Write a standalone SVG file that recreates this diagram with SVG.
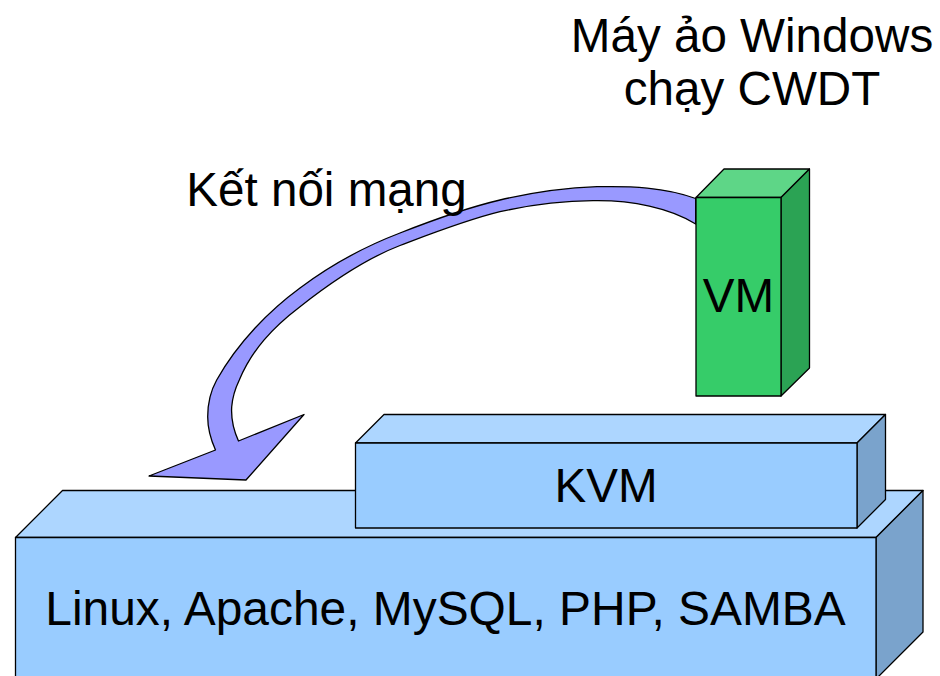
<svg xmlns="http://www.w3.org/2000/svg" width="940" height="676" viewBox="0 0 940 676">
<style>
text{font-family:"Liberation Sans",Arial,sans-serif;font-size:47.6px;fill:#000;text-anchor:middle}
.e{stroke:#000;stroke-width:1.3;stroke-linejoin:round}
.bf{fill:#99ccff}.bt{fill:#add6ff}.bs{fill:#7aa3cc}
.gf{fill:#36cc69}.gt{fill:#5ed687}.gs{fill:#2ba354}
</style>
<rect width="940" height="676" fill="#fff"/>
<g id="linux">
<path class="e bt" d="M15.500 537.500L62.500 490.500H923L876 537.500Z"/>
<path class="e bs" d="M876 537.500L923 490.500V632L876 679Z"/>
<rect class="e bf" x="15.500" y="537.500" width="860.500" height="142"/>
<text x="445.500" y="625" style="font-size:47.900px">Linux, Apache, MySQL, PHP, SAMBA</text>
</g>
<g id="kvm">
<path class="e bt" d="M355.500 443L384 414.500H885.500L857 443Z"/>
<path class="e bs" d="M857 443L885.500 414.500V499.500L857 528Z"/>
<rect class="e bf" x="355.500" y="443" width="501.500" height="85"/>
<text x="606" y="502">KVM</text>
</g>
<g id="connectors">
<path class="e" fill="#9999ff" d="M695.700 198.500C665 187 630 186 597 186.700C560 188 530 193 500 200C466 208 433 220 400 233C366 246 332 264 300 288C270 310 238 342 216.700 380C210 392 207.700 405 207.700 416.700C207.700 428 211 440 215.500 450L149 476L246 480L304 414.500L238.500 441C233.500 430 231 418 231.700 406.700C232.500 397 235 389 239.300 380C252 350 272 328 300 306.700C330 283 365 259 400 245.500C433 233 466 220 500 211.700C530 205 560 201 593 200.700C632 200 670 208 695.700 224Z"/>
</g>
<g id="vm">
<path class="e gt" d="M696 197.500L724 169H809.500L781 197.500Z"/>
<path class="e gs" d="M781 197.500L809.500 169V368L781 396Z"/>
<rect class="e gf" x="696" y="197.500" width="85" height="198.500"/>
<text x="738.500" y="312">VM</text>
</g>
<g id="labels">
<text x="752" y="52">Máy ảo Windows</text>
<text x="752" y="105">chạy CWDT</text>
<text x="326.500" y="206">Kết nối mạng</text>
</g>
</svg>
